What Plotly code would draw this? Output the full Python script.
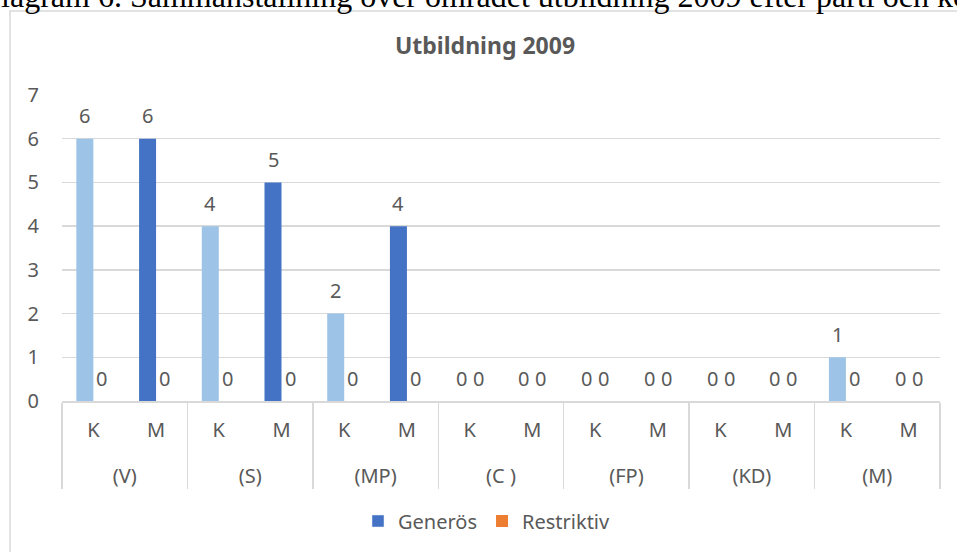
import plotly.graph_objects as go

parties = ["(V)", "(S)", "(MP)", "(C )", "(FP)", "(KD)", "(M)"]
sexes = ["K", "M"]
generos = [6, 6, 4, 5, 2, 4, 0, 0, 0, 0, 0, 0, 1, 0]
restriktiv = [0, 0, 0, 0, 0, 0, 0, 0, 0, 0, 0, 0, 0, 0]
y_ticks = [0, 1, 2, 3, 4, 5, 6, 7]

title_text = "Utbildning 2009"
caption_text = "Diagram 6. Sammanställning över området utbildning 2009 efter parti och kön"

LIGHT = "#9DC3E6"
DARK = "#4472C4"
ORANGE = "#ED7D31"
GRID = "#D9D9D9"
TXT = "#595959"
FONT = "Noto Sans"
FS = 20

# primary tick labels get an empty second line to widen the gap to the party row
sex_labels = {s: s + "<br><span style='font-size:24px'> </span>" for s in sexes}
x_party = [p for p in parties for _ in sexes]
x_sex = [sex_labels[s] for _ in parties for s in sexes]
is_k = [s == "K" for _ in parties for s in sexes]

W, H = 957, 552
L, R, T, B = 62, 17, 95, 151
PW, PH = W - L - R, H - T - B

def px_x(px):
    return (px - L) / PW

def px_y(py):
    return (H - B - py) / PH

bargap = 0.458
bw = (1 - bargap) / 2

fig = go.Figure()
fig.add_trace(go.Bar(
    x=[x_party, x_sex], y=generos, name="Generös",
    marker=dict(color=[LIGHT if k else DARK for k in is_k], line=dict(width=0)),
    offsetgroup="g", legendgroup="g", showlegend=False,
))
fig.add_trace(go.Bar(
    x=[[x_party[0]], [x_sex[0]]], y=[None], name="Generös",
    marker=dict(color=DARK), offsetgroup="g", legendgroup="g", showlegend=True,
))
fig.add_trace(go.Bar(
    x=[x_party, x_sex], y=restriktiv, name="Restriktiv",
    marker=dict(color=ORANGE, line=dict(width=0)),
    offsetgroup="r", legendgroup="r",
))

annotations = []
for i, (g, r) in enumerate(zip(generos, restriktiv)):
    for val, off in ((g, -bw / 2), (r, bw / 2)):
        annotations.append(dict(
            x=i + off, y=val, xref="x", yref="y", text=str(val),
            showarrow=False, yshift=23, yanchor="middle", xanchor="center",
            font=dict(family=FONT, size=FS, color=TXT),
        ))

annotations.append(dict(
    x=px_x(-24), y=px_y(-4), xref="paper", yref="paper", xanchor="left", yanchor="middle",
    text=caption_text, showarrow=False,
    font=dict(family="Liberation Serif", size=32, color="#000000"),
))

fig.update_layout(
    width=W, height=H,
    margin=dict(l=L, r=R, t=T, b=B, pad=0),
    paper_bgcolor="white", plot_bgcolor="white",
    barmode="group", bargap=bargap, bargroupgap=0,
    title=dict(text=title_text, x=px_x(485), xref="paper", xanchor="center",
               y=1 - 46 / H, yref="container", yanchor="middle",
               font=dict(family=FONT, size=23, color=TXT, weight="bold")),
    font=dict(family=FONT, size=FS, color=TXT),
    showlegend=True,
    legend=dict(orientation="h", x=px_x(487), xanchor="center", y=px_y(521), yanchor="middle",
                font=dict(family=FONT, size=FS, color=TXT), traceorder="normal",
                itemclick=False, itemdoubleclick=False),
    annotations=annotations,
    shapes=[dict(type="rect", xref="paper", yref="paper",
                 x0=px_x(10), x1=px_x(1000), y0=px_y(11), y1=px_y(620),
                 line=dict(color=GRID, width=1.5), fillcolor="rgba(0,0,0,0)", layer="below")],
)

fig.update_yaxes(range=[0, 7], tickvals=y_ticks, showgrid=True, gridcolor=GRID, gridwidth=1.3,
                 zeroline=False, showline=False, ticks="", ticklabelstandoff=22,
                 tickfont=dict(family=FONT, size=FS, color=TXT), fixedrange=True)
fig.update_xaxes(type="multicategory", showline=True, linecolor=GRID, linewidth=1.5,
                 showdividers=True, dividercolor=GRID, dividerwidth=1.5, ticks="",
                 ticklabelstandoff=10,
                 showgrid=False, tickfont=dict(family=FONT, size=FS, color=TXT), fixedrange=True)

fig.write_html("out.html", config={"displayModeBar": False, "staticPlot": True},
               post_script="document.body.style.margin='0px';")
